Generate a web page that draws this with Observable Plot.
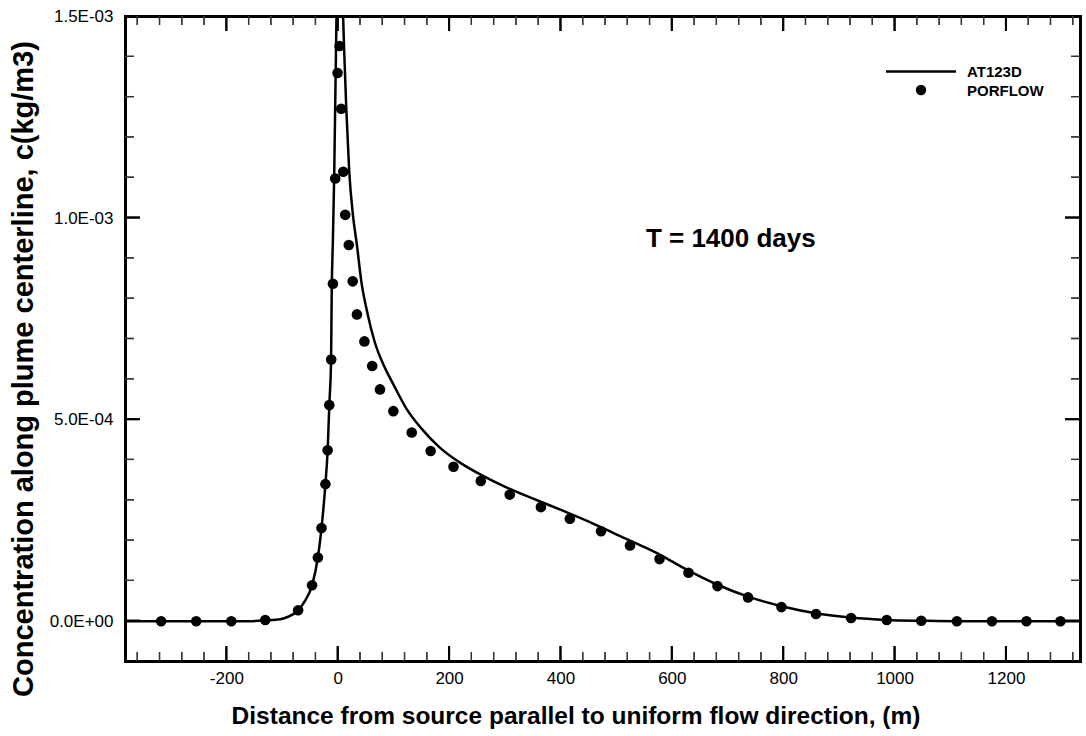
<!DOCTYPE html>
<html>
<head>
<meta charset="utf-8">
<script src="https://cdn.jsdelivr.net/npm/d3@7"></script>
<script src="https://cdn.jsdelivr.net/npm/@observablehq/plot@0.6"></script>
<style>
  html, body { margin: 0; padding: 0; background: #fff; }
  svg { display: block; }
</style>
</head>
<body>
<div id="chart"></div>
<script>
// ---- Data ----
// AT123D analytical solution (line), x in m, c in 1e-3 kg/m3.
// The curve leaves the top of the frame at x = -3.1 and comes back at x = 8.8 (null = gap).
const at123dX = [-382, -300, -200, -160, -130, -104, -90, -72, -60, -47, -36.5, -30, -23, -19, -16, -12.8, -11.8, -9.5, -7.3, -3.1, 2.5, 8.8, 10.4, 14.5, 19.8, 26.4, 33.6, 41.5, 53, 65, 84, 100, 123, 150, 183, 220, 255, 300, 350, 400, 450, 500, 543, 579, 620, 680, 740, 800, 860, 920, 985, 1050, 1110, 1200, 1333];
const at123dC = [0, 0, 0, 0, 0.002, 0.005, 0.011, 0.027, 0.05, 0.089, 0.158, 0.231, 0.34, 0.424, 0.536, 0.649, 0.80, 0.95, 1.098, 1.5, null, 1.5, 1.427, 1.271, 1.115, 1.008, 0.933, 0.843, 0.761, 0.695, 0.628, 0.585, 0.526, 0.477, 0.430, 0.392, 0.364, 0.333, 0.304, 0.276, 0.247, 0.215, 0.188, 0.164, 0.132, 0.091, 0.059, 0.036, 0.019, 0.009, 0.003, 0.001, 0, 0, 0];

// PORFLOW numerical solution (dots)
const porflowX = [-318, -255, -192, -131, -72, -47, -36.5, -30, -23, -19, -16, -12.6, -9.5, -5.4, -1.2, 2.4, 5.4, 9, 12.6, 19, 26, 33.6, 47, 61, 75, 99, 132, 166, 207, 256, 308, 364, 416, 472, 524, 577, 629, 681, 736, 796, 858, 921, 985, 1047, 1111, 1174, 1236, 1297];
const porflowC = [0, 0, 0, 0.003, 0.027, 0.089, 0.158, 0.231, 0.340, 0.424, 0.536, 0.649, 0.837, 1.098, 1.360, 1.427, 1.271, 1.115, 1.008, 0.933, 0.843, 0.761, 0.694, 0.633, 0.575, 0.521, 0.468, 0.422, 0.383, 0.348, 0.314, 0.283, 0.254, 0.223, 0.188, 0.154, 0.120, 0.087, 0.059, 0.035, 0.018, 0.008, 0.003, 0.001, 0, 0, 0, 0];

// Tick values
const xMajorTicks = [-200, 0, 200, 400, 600, 800, 1000, 1200];
const xMinorTicks = [-360, -320, -280, -240, -160, -120, -80, -40, 40, 80, 120, 160, 240, 280, 320, 360, 440, 480, 520, 560, 640, 680, 720, 760, 840, 880, 920, 960, 1040, 1080, 1120, 1160, 1240, 1280, 1320];
const yMajorTicks = [0, 5e-4, 1e-3, 1.5e-3];
const yMinorTicks = [1e-4, 2e-4, 3e-4, 4e-4, 6e-4, 7e-4, 8e-4, 9e-4, 1.1e-3, 1.2e-3, 1.3e-3, 1.4e-3];

const xTitle = "Distance from source parallel to uniform flow direction, (m)";
const yTitle = "Concentration along plume centerline, c(kg/m3)";
const annotation = "T = 1400 days";
const seriesNames = ["AT123D", "PORFLOW"];

// ---- Build tables ----
const lineData = at123dX.map((x, i) => ({x, c: at123dC[i] == null ? NaN : at123dC[i] * 1e-3}));
const dotData = porflowX.map((x, i) => ({x, c: porflowC[i] * 1e-3}));

const fmtE = d => {
  if (d === 0) return "0.0E+00";
  const [m, e] = d.toExponential(1).split("e");
  const ei = +e;
  return m + "E" + (ei < 0 ? "-" : "+") + String(Math.abs(ei)).padStart(2, "0");
};
const fmtX = d => String(d);

const FONT = "Liberation Sans, Arial, Helvetica, sans-serif";

// frame geometry (pixels)
const W = 1086, H = 736, ML = 125, MR = 6, MT = 16, MB = 75;
const MAJ = 15, MIN = 9;

const plot = Plot.plot({
  width: W,
  height: H,
  marginLeft: ML,
  marginRight: MR,
  marginTop: MT,
  marginBottom: MB,
  style: {fontSize: "17px"},
  x: {domain: [-382, 1333], axis: null},
  y: {domain: [-1e-4, 1.5e-3], axis: null},
  marks: [
    Plot.line(lineData, {x: "x", y: "c", stroke: "#000", strokeWidth: 2.5, curve: "monotone-x"}),
    Plot.dot(dotData, {x: "x", y: "c", r: 5.3, fill: "#000", stroke: "none"}),

    // tick labels
    Plot.text(xMajorTicks, {x: d => d, text: fmtX, frameAnchor: "bottom", dy: 10, lineAnchor: "top", textAnchor: "middle", fontSize: 17}),
    Plot.text(yMajorTicks, {y: d => d, text: fmtE, frameAnchor: "left", dx: -12, lineAnchor: "middle", textAnchor: "end", fontSize: 17}),

    Plot.text([annotation], {x: [705], y: [0.948e-3], text: d => d, fontSize: 26, fontWeight: "bold", textAnchor: "middle", lineAnchor: "middle"}),
    Plot.text([xTitle], {frameAnchor: "bottom", dx: -27, dy: 55, text: d => d, fontSize: 24.5, fontWeight: "bold", textAnchor: "middle", lineAnchor: "middle"}),
    Plot.text([yTitle], {frameAnchor: "left", dx: -102, dy: 30, rotate: -90, text: d => d, fontSize: 29, fontWeight: "bold", textAnchor: "middle", lineAnchor: "middle"}),

    Plot.frame({stroke: "#000", strokeWidth: 3})
  ]
});

const svg = d3.select(plot);
svg.attr("font-family", FONT);

// Inward ticks on all four sides, positioned with the plot's own scales
const sx = plot.scale("x"), sy = plot.scale("y");
const x0 = ML, x1 = W - MR, y0 = MT, y1 = H - MB;
const segs = {major: [], minor: []};
for (const v of xMajorTicks) { const p = sx.apply(v); segs.major.push([p, y1, p, y1 - MAJ], [p, y0, p, y0 + MAJ]); }
for (const v of xMinorTicks) { const p = sx.apply(v); segs.minor.push([p, y1, p, y1 - MIN], [p, y0, p, y0 + MIN]); }
for (const v of yMajorTicks) { const p = sy.apply(v); segs.major.push([x0, p, x0 + MAJ, p], [x1, p, x1 - MAJ, p]); }
for (const v of yMinorTicks) { const p = sy.apply(v); segs.minor.push([x0, p, x0 + MIN, p], [x1, p, x1 - MIN, p]); }

const tg = svg.append("g").attr("class", "inward-ticks");
// filled rectangles
for (const [kind, w, col] of [["major", 2, "#000"], ["minor", 1.3, "#333"]]) {
  for (const [ax, ay, bx, by] of segs[kind]) {
    const vertical = ax === bx;
    tg.append("rect")
      .attr("x", vertical ? ax - w / 2 : Math.min(ax, bx))
      .attr("y", vertical ? Math.min(ay, by) : ay - w / 2)
      .attr("width", vertical ? w : Math.abs(bx - ax))
      .attr("height", vertical ? Math.abs(by - ay) : w)
      .attr("fill", col);
  }
  // stroked path over the same positions
  tg.append("path")
    .attr("d", segs[kind].map(([ax, ay, bx, by]) => `M${ax},${ay}L${bx},${by}`).join(""))
    .attr("fill", "none").attr("stroke", col).attr("stroke-width", w);
}

// Legend (inside plot, top right)
const lg = svg.append("g").attr("font-family", FONT).attr("font-weight", "bold").attr("font-size", 15).attr("text-anchor", "start");
lg.append("line").attr("x1", 886).attr("x2", 956).attr("y1", 71.5).attr("y2", 71.5).attr("stroke", "#000").attr("stroke-width", 2.5);
lg.append("text").attr("x", 967).attr("y", 71.5).attr("dy", "0.35em").text(seriesNames[0]);
lg.append("circle").attr("cx", 921).attr("cy", 90).attr("r", 5.2).attr("fill", "#000");
lg.append("text").attr("x", 967).attr("y", 90.5).attr("dy", "0.35em").text(seriesNames[1]);

document.getElementById("chart").appendChild(plot);
</script>
</body>
</html>
